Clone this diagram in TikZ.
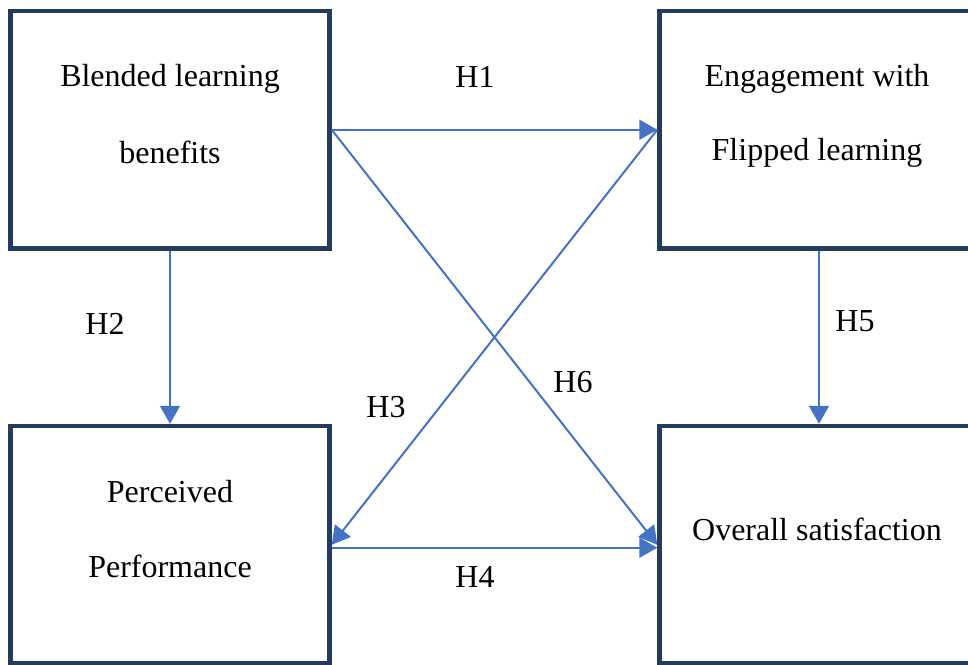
\documentclass[tikz,border=0pt]{standalone}
\usepackage{fontspec}
\setmainfont{Liberation Serif}
\usetikzlibrary{arrows.meta,calc}
\definecolor{boxnavy}{HTML}{243B5E}
\definecolor{arrowblue}{HTML}{4472C4}
\tikzset{
  bigbox/.style={draw=boxnavy, line width=4.5pt, rectangle, minimum width=319pt, minimum height=237.5pt, inner sep=0pt},
  txt/.style={font=\fontsize{32}{38}\selectfont, inner sep=0pt, text=black},
  conn/.style={draw=arrowblue, line width=2pt, -{Triangle[length=18pt,width=20pt]}}
}
\begin{document}
\begin{tikzpicture}[x=1pt,y=-1pt]
\clip (0,0) rectangle (968,664);
\fill[white] (0,0) rectangle (968,664);
\node[bigbox] (tl) at (170,129.75) {};
\node[bigbox] (tr) at (819,129.75) {};
\node[bigbox] (bl) at (170,544.75) {};
\node[bigbox] (br) at (819,544.75) {};
\node[txt] (t1a) at (170,79) {Blended learning};
\node[txt] (t1b) at (170,152) {benefits};
\node[txt] (t2a) at (817,79) {Engagement with};
\node[txt] (t2b) at (817,153) {Flipped learning};
\node[txt] (t3a) at (170,492) {Perceived};
\node[txt] (t3b) at (170,566) {Performance};
\node[txt] (t4) at (817,529) {Overall satisfaction};
\draw[conn] (tl.east) -- (tr.west);
\draw[conn] (tl.east) -- (br.west);
\draw[conn] (tr.west) -- (bl.east);
\coordinate (h4s) at ($(bl.east)+(0,3)$);
\coordinate (h4e) at ($(br.west)+(0,3)$);
\draw[conn] (h4s) -- (h4e);
\draw[conn] (tl.south) -- (bl.north);
\draw[conn] (tr.south) -- (br.north);
\node[txt] (h1) at (475,77) {H1};
\node[txt] (h2) at (105,324) {H2};
\node[txt] (h3) at (386,407) {H3};
\node[txt] (h4) at (475,577) {H4};
\node[txt] (h5) at (855,321) {H5};
\node[txt] (h6) at (573,382) {H6};
\end{tikzpicture}
\end{document}
